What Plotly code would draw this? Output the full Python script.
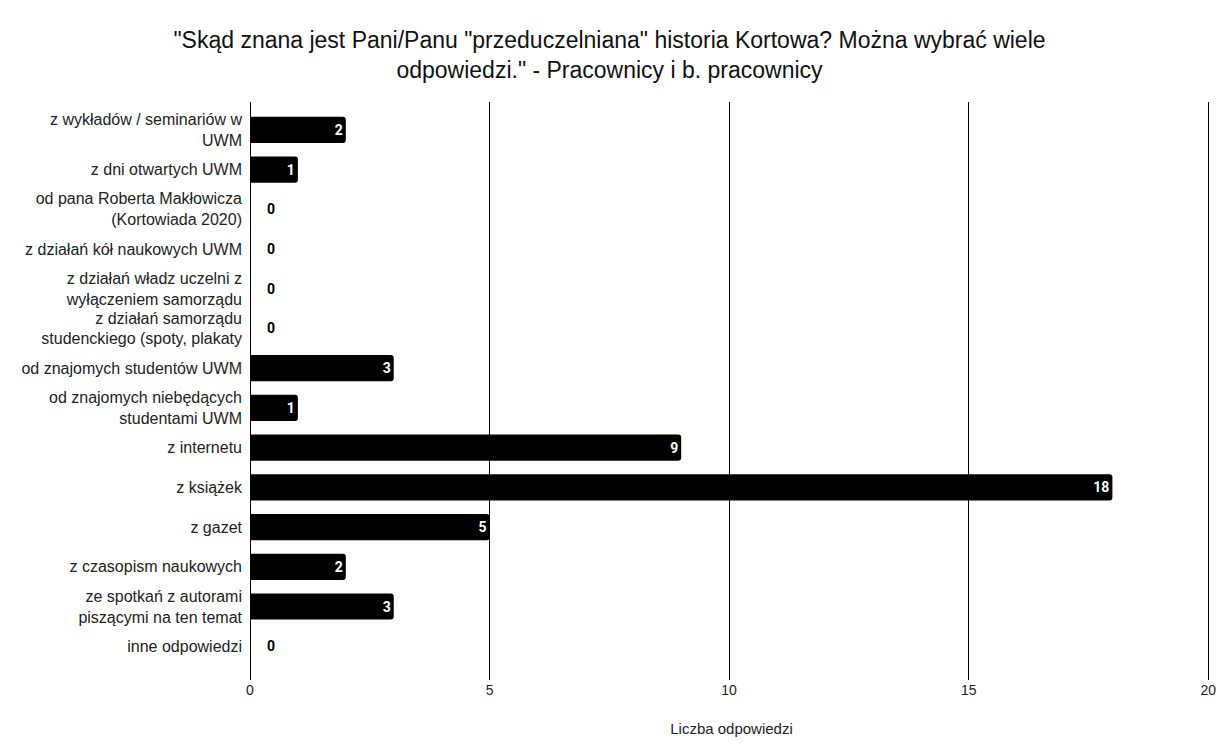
import plotly.graph_objects as go

categories = [
    "z wykładów / seminariów w<br>UWM",
    "z dni otwartych UWM",
    "od pana Roberta Makłowicza<br>(Kortowiada 2020)",
    "z działań kół naukowych UWM",
    "z działań władz uczelni z<br>wyłączeniem samorządu",
    "z działań samorządu<br>studenckiego (spoty, plakaty",
    "od znajomych studentów UWM",
    "od znajomych niebędących<br>studentami UWM",
    "z internetu",
    "z książek",
    "z gazet",
    "z czasopism naukowych",
    "ze spotkań z autorami<br>piszącymi na ten temat",
    "inne odpowiedzi",
]
values = [2, 1, 0, 0, 0, 0, 3, 1, 9, 18, 5, 2, 3, 0]
x_ticks = [0, 5, 10, 15, 20]
title_text = ('"Skąd znana jest Pani/Panu "przeduczelniana" historia Kortowa? Można wybrać wiele'
              '<br>odpowiedzi." - Pracownicy i b. pracownicy')
x_title = "Liczba odpowiedzi"

positions = ["inside" if v > 0 else "outside" for v in values]
labels = [str(v) if v > 0 else "\u00a0\u00a0\u00a0\u00a0" + str(v) for v in values]

W, H = 1219, 743
fig = go.Figure()
fig.add_trace(go.Bar(
    y=categories,
    x=values,
    orientation="h",
    marker=dict(color="#000000", line=dict(width=0)),
    text=labels,
    textposition=positions,
    insidetextanchor="end",
    insidetextfont=dict(color="white", family="Roboto", size=14, weight="bold"),
    outsidetextfont=dict(color="black", family="Roboto", size=14, weight="bold"),
    cliponaxis=False,
    width=0.66,
))

fig.update_layout(
    width=W, height=H,
    margin=dict(l=250, r=6, t=102, b=63, autoexpand=False),
    paper_bgcolor="white", plot_bgcolor="white",
    barcornerradius=3,
    showlegend=False,
    font=dict(family="Liberation Sans, Arial", color="#222222"),
    title=dict(
        text=title_text, xref="container", yref="container",
        x=0.5, xanchor="center", y=1 - 48 / H, yanchor="middle",
        font=dict(family="Liberation Sans, Arial", size=23, color="#111111"),
    ),
    xaxis=dict(
        range=[0, 20.1], tickvals=x_ticks, ticktext=[str(t) for t in x_ticks],
        showgrid=True, gridcolor="#000000", gridwidth=1,
        zeroline=True, zerolinecolor="#000000", zerolinewidth=1,
        showline=False, ticks="", automargin=False,
        tickfont=dict(size=14, color="#222222"),
        title=dict(text=x_title, font=dict(size=15, color="#222222"), standoff=26),
    ),
    yaxis=dict(
        range=[13.85, -0.7],
        showgrid=False, zeroline=False, showline=False, ticks="", automargin=False,
        ticklabelstandoff=7,
        tickfont=dict(size=16, color="#222222"),
    ),
)

fig.write_html("out.html", config={"displayModeBar": False},
               post_script="document.body.style.margin='0';")
